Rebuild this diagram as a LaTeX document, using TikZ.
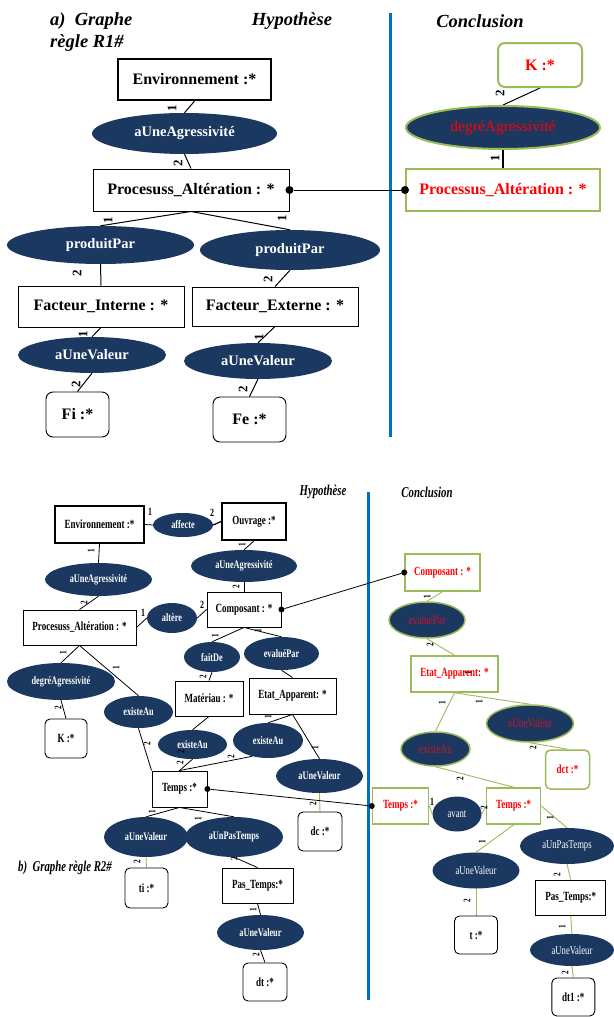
\documentclass[tikz,border=0pt]{standalone}
\usepackage{fontspec}
\setmainfont{Liberation Serif}
\newfontfamily\condfont{Liberation Serif}[FakeStretch=0.72]
\usetikzlibrary{shapes.geometric,backgrounds}

\definecolor{navy}{RGB}{26,56,96}
\definecolor{ogreen}{RGB}{155,187,89}
\definecolor{oblue}{RGB}{0,112,192}
\definecolor{dred}{RGB}{205,20,40}

\tikzset{
  sz/.style 2 args={minimum width=#1pt, minimum height=#2pt},
  % rule R1
  box/.style={draw, rectangle, fill=white, line width=0.95pt, inner sep=0pt,
    font=\bfseries\fontsize{16}{19}\selectfont},
  thickbox/.style={box, line width=2.2pt},
  rbox/.style={box, rounded corners=7pt},
  rel/.style={ellipse, fill=navy, text=white, inner sep=0pt,
    font=\bfseries\fontsize{14.5}{17}\selectfont},
  cbox/.style={box, draw=ogreen, line width=2pt, text=red},
  crbox/.style={cbox, rounded corners=7pt},
  crel/.style={ellipse, fill=navy, draw=ogreen, line width=2pt, inner sep=0pt,
    text=red, font=\fontsize{15.5}{18}\selectfont},
  lab/.style={inner sep=0pt, font=\bfseries\fontsize{13}{13}\selectfont, rotate=90},
  arc/.style={line width=1pt},
  ttl/.style={inner sep=0pt, font=\bfseries\itshape\fontsize{18.5}{21}\selectfont},
  dot/.style={circle, fill=black, inner sep=0pt, minimum size=8pt},
  sep/.style={draw=oblue, line width=3pt},
  % rule R2
  sbox/.style={draw, rectangle, fill=white, line width=0.9pt, inner sep=0pt,
    font=\condfont\bfseries\fontsize{12.5}{15}\selectfont},
  sthick/.style={sbox, line width=1.8pt},
  srbox/.style={sbox, rounded corners=5pt},
  srel/.style={ellipse, fill=navy, text=white, inner sep=0pt,
    font=\condfont\bfseries\fontsize{11.5}{14}\selectfont},
  scbox/.style={sbox, draw=ogreen, line width=1.5pt, text=red},
  scrbox/.style={scbox, rounded corners=5pt},
  screl/.style={srel, draw=ogreen, line width=1.5pt, text=dred,
    font=\condfont\fontsize{13}{15}\selectfont},
  slab/.style={inner sep=0pt, font=\condfont\bfseries\fontsize{10}{10}\selectfont, rotate=90},
  ulab/.style={inner sep=0pt, font=\condfont\bfseries\fontsize{11}{11}\selectfont},
  sarc/.style={line width=0.8pt},
  garc/.style={line width=0.9pt, draw=ogreen},
  sttl/.style={inner sep=0pt, font=\condfont\bfseries\itshape\fontsize{15}{17}\selectfont},
  sdot/.style={circle, fill=black, inner sep=0pt, minimum size=6pt},
}

\begin{document}
\begin{tikzpicture}[x=1pt,y=-1pt]
\useasboundingbox (0,0) rectangle (613,1017);

% ---------------- rule R1 ----------------
\node[ttl, anchor=west] (ta1) at (50,21) {a)\ \ Graphe};
\node[ttl, anchor=west] (ta2) at (50,43) {règle R1\#};
\node[ttl] (th1) at (292,21) {Hypothèse};
\node[ttl] (tc1) at (480,21) {Conclusion};
\coordinate (s1t) at (390,13);
\coordinate (s1b) at (390,437);

\node[thickbox, sz={153}{41}] (env) at (194.5,79.5) {Environnement :*};
\node[rel, sz={185}{41}] (aga) at (184.5,133.5) {aUneAgressivité};
\node[box, sz={196}{42}] (proc) at (191,190) {Procesuss\_Altération : *};
\node[rel, sz={187}{38}] (ppl) at (100.5,245) {produitPar};
\node[rel, sz={180}{40}] (ppr) at (290,250) {produitPar};
\node[box, sz={166}{41}] (fi) at (101,306.5) {Facteur\_Interne : *};
\node[box, sz={166}{39}] (fe) at (275,306.5) {Facteur\_Externe : *};
\node[rel, sz={148}{36}] (vl) at (92,355) {aUneValeur};
\node[rel, sz={148}{36}] (vr) at (258,361) {aUneValeur};
\node[rbox, sz={63}{45}] (fiv) at (77.5,414.5) {Fi :*};
\node[rbox, sz={73}{45}] (fev) at (249.5,419.5) {Fe :*};

\node[crbox, sz={84}{44}] (kc) at (540,65) {K :*};
\node[crel, sz={194}{43}] (dgc) at (503,127.5) {degréAgressivité};
\node[cbox, sz={194}{42}] (pcc) at (503,190) {Processus\_Altération : *};

\node[dot] (d1) at (proc.east) {};
\node[dot] (d2) at (pcc.west) {};

\node[lab] (l1) at (172,108) {1};
\node[lab] (l2) at (178,163) {2};
\node[lab] (l3) at (108,220) {1};
\node[lab] (l4) at (282,218) {1};
\node[lab] (l5) at (77,273) {2};
\node[lab] (l6) at (268,279) {2};
\node[lab] (l7) at (83,334) {1};
\node[lab] (l8) at (259,337) {1};
\node[lab] (l9) at (76,384) {2};
\node[lab] (l10) at (243,389) {2};
\node[lab] (l11) at (500,93) {2};
\node[lab] (l12) at (495,158) {1};

% ---------------- rule R2 ----------------
\node[sttl] (th2) at (323,492) {Hypothèse};
\node[sttl] (tc2) at (427,492) {Conclusion};
\node[sttl, anchor=west] (tb) at (18,868) {b)\ \ Graphe règle R2\#};
\coordinate (s2t) at (368,492);
\coordinate (s2b) at (368,1000);

\node[sthick, sz={89}{37}] (env2) at (99.5,524.5) {Environnement :*};
\node[srel, sz={60}{24}] (aff) at (183,525) {affecte};
\node[sthick, sz={64}{37}] (ouv) at (254,521.5) {Ouvrage :*};
\node[srel, sz={107}{33}] (agrL) at (98.5,579.5) {aUneAgressivité};
\node[srel, sz={106}{32}] (agrR) at (244,566) {aUneAgressivité};
\node[sbox, sz={74}{35}] (comp) at (244,609.5) {Composant : *};
\node[sbox, sz={113}{35}] (proc2) at (79.5,627.5) {Procesuss\_Altération : *};
\node[srel, sz={50}{30}] (alt) at (172,618) {altère};
\node[srel, sz={56}{30}] (fait) at (212,657) {faitDe};
\node[srel, sz={75}{33}] (eval) at (281.5,653.5) {evaluéPar};
\node[srel, sz={108}{37}] (dgr) at (61,681.5) {degréAgressivité};
\node[srel, sz={69}{32}] (exL) at (138.5,712) {existeAu};
\node[sbox, sz={68}{35}] (mat) at (209,698.5) {Matériau : *};
\node[sbox, sz={87}{36}] (etat) at (292.5,696) {Etat\_Apparent: *};
\node[srbox, sz={42}{39}] (kk) at (66,738.5) {K :*};
\node[srel, sz={69}{29}] (exM) at (192.5,744.5) {existeAu};
\node[srel, sz={70}{35}] (exR) at (268,740.5) {existeAu};
\node[srel, sz={87}{34}] (valD) at (319.5,776) {aUneValeur};
\node[sbox, sz={55}{36}] (temps) at (179.5,789) {Temps :*};
\node[srbox, sz={44}{39}] (dc) at (320,831.5) {dc :*};
\node[srel, sz={84}{40}] (valTi) at (146,837) {aUneValeur};
\node[srel, sz={98}{40}] (pas) at (234,837) {aUnPasTemps};
\node[srbox, sz={43}{40}] (ti) at (146.5,888) {ti :*};
\node[sbox, sz={71}{35}] (pasT) at (257.5,885.5) {Pas\_Temps:*};
\node[srel, sz={87}{35}] (valDt) at (260.5,932.5) {aUneValeur};
\node[srbox, sz={44}{38}] (dt) at (265,982) {dt :*};

\node[scbox, sz={75}{37}] (ccomp) at (442.5,572.5) {Composant : *};
\node[screl, sz={76}{36}] (ceval) at (427,620) {evaluéPar};
\node[scbox, sz={87}{36}] (cetat) at (454.5,674) {Etat\_Apparent: *};
\node[screl, sz={69}{34}] (cex) at (435.5,749) {existeAu};
\node[screl, sz={87}{37}] (cval) at (530,723.5) {aUneValeur};
\node[scrbox, sz={44}{39}] (dct) at (567.5,769.5) {dct :*};
\node[scbox, sz={56}{36}] (ct1) at (400.5,806) {Temps :*};
\node[srel, sz={49}{35}, font=\condfont\fontsize{12}{14}\selectfont] (avant) at (457,814) {avant};
\node[scbox, sz={54}{36}] (ct2) at (513.7,806) {Temps :*};
\node[srel, sz={94}{36}, font=\condfont\fontsize{12}{14}\selectfont] (cpas) at (567,846) {aUnPasTemps};
\node[srel, sz={87}{36}, font=\condfont\fontsize{12}{14}\selectfont] (cvalt) at (476,870.5) {aUneValeur};
\node[srbox, sz={43}{38}] (ctt) at (476,935) {t :*};
\node[sbox, sz={70}{35}] (cpasT) at (570.7,897.5) {Pas\_Temps:*};
\node[srel, sz={84}{32}, font=\condfont\fontsize{12}{14}\selectfont] (cvaldt) at (572,950) {aUneValeur};
\node[srbox, sz={43}{38}] (dt1) at (573.3,997) {dt1 :*};

\node[sdot] (dd1) at (comp.east) {};
\node[sdot] (dd2) at (ccomp.west) {};
\node[sdot] (dd3) at (temps.east) {};
\node[sdot] (dd4) at (ct1.west) {};

% edge numbers
\node[ulab] (m1) at (150,512) {1};
\node[ulab] (m2) at (212,513) {2};
\node[slab] (m3) at (91,551) {1};
\node[slab] (m4) at (242,545) {1};
\node[slab] (m5) at (236,587) {2};
\node[slab] (m6) at (84,603) {2};
\node[ulab] (m7) at (143,613) {1};
\node[ulab] (m8) at (202,605) {2};
\node[slab] (m9) at (215,636) {1};
\node[slab] (m10) at (258,631) {1};
\node[slab] (m11) at (203,677) {2};
\node[slab] (m12) at (63,653) {1};
\node[slab] (m13) at (116,668) {1};
\node[slab] (m14) at (58,708) {2};
\node[slab] (m15) at (147,744) {2};
\node[slab] (m16) at (181,752) {2};
\node[slab] (m17) at (180,763) {2};
\node[slab] (m18) at (231,757) {2};
\node[slab] (m19) at (268,717) {1};
\node[slab] (m20) at (315,748) {1};
\node[slab] (m21) at (313,804) {2};
\node[slab] (m22) at (152,812) {1};
\node[slab] (m23) at (198,819) {1};
\node[slab] (m24) at (137,862) {2};
\node[slab] (m25) at (234,859) {2};
\node[slab] (m26) at (253,910) {1};
\node[slab] (m27) at (256,955) {2};

\node[slab] (n1) at (427,597) {1};
\node[slab] (n2) at (430,645) {2};
\node[slab] (n3) at (468,673) {1};
\node[slab] (n4) at (442,703) {1};
\node[slab] (n5) at (479,702) {1};
\node[slab] (n6) at (533,748) {2};
\node[slab] (n7) at (460,779) {2};
\node[ulab] (n8) at (432,802) {1};
\node[slab] (n9) at (484,808) {2};
\node[slab] (n10) at (550,818) {1};
\node[slab] (n11) at (482,842) {1};
\node[slab] (n12) at (467,901) {2};
\node[slab] (n13) at (557,875) {2};
\node[slab] (n14) at (562,927) {1};
\node[slab] (n15) at (565,973) {2};

% ---------------- connectors, beneath the nodes ----------------
\begin{pgfonlayer}{background}
\fill[white] (0,0) rectangle (613,1017);
\draw[sep] (s1t) -- (s1b);
\draw[sep] (s2t) -- (s2b);

% R1 hypothesis
\draw[arc] (env.south) -- (aga.north);
\draw[arc] (aga.south) -- (proc.north);
\draw[arc] (proc.south) -- (ppl.north);
\draw[arc] (proc.south) -- (ppr.north);
\draw[arc] (ppl.south) -- (fi.north);
\draw[arc] (ppr.south) -- (fe.north);
\draw[arc] (fi.south) -- (vl.north);
\draw[arc] (fe.south) -- (vr.north);
\draw[arc] (vl.south) -- (fiv.north);
\draw[arc] (vr.south) -- (fev.north);
% R1 conclusion
\draw[arc] (kc.south) -- (dgc.north);
\draw[arc, line width=1.3pt] (dgc.south) -- (pcc.north);
\draw[arc] (d1) -- (d2);

% R2 hypothesis
\draw[sarc] (env2.east) -- (aff.west);
\draw[sarc, line width=1.2pt] (aff.east) -- (ouv.west);
\draw[sarc] (env2.south) -- (agrL.north);
\draw[sarc] (ouv.south) -- (agrR.north);
\draw[sarc] (agrR.south) -- (comp.north);
\draw[sarc] (agrL.south) -- (proc2.north);
\draw[sarc] (proc2.east) -- (alt.west);
\draw[sarc] (alt.east) -- (comp.west);
\draw[sarc] (comp.south) -- (fait.north);
\draw[sarc] (comp.south) -- (eval.north);
\draw[sarc] (fait.south) -- (mat.north);
\draw[sarc] (eval.south) -- (etat.north);
\draw[sarc] (proc2.south) -- (dgr.north);
\draw[sarc] (proc2.south) -- (exL.north);
\draw[sarc] (dgr.south) -- (kk.north);
\draw[sarc] (exL.south) -- (temps.north west);
\draw[sarc] (mat.south) -- (exM.north);
\draw[sarc] (exM.south) -- (temps.north);
\draw[sarc] (exR.225) -- (temps.north);
\draw[sarc] (etat.south) -- (exR.north);
\draw[sarc] (etat.south) -- (valD.north);
\draw[garc] (valD.south) -- (dc.north);
\draw[sarc] (temps.south) -- (valTi.north);
\draw[sarc] (temps.south) -- (pas.north);
\draw[garc] (valTi.south) -- (ti.north);
\draw[sarc] (pasT.north) -- (pas.south);
\draw[sarc] (pasT.south) -- (valDt.north);
\draw[sarc] (valDt.south) -- (dt.north);
\draw[sarc] (dd1) -- (dd2);
\draw[sarc] (dd3) -- (dd4);

% R2 conclusion
\draw[garc] (ccomp.south) -- (ceval.north);
\draw[garc] (ceval.south) -- (cetat.north);
\draw[garc] (cetat.south) -- (cex.north);
\draw[garc] (cetat.south) -- (cval.north);
\draw[garc] (cval.south) -- (dct.north);
\draw[garc] (cex.south) -- (ct2.north);
\draw[garc] (ct1.east) -- (avant.west);
\draw[garc] (avant.east) -- (ct2.west);
\draw[garc] (ct2.east) -- (cpas.north);
\draw[garc] (ct2.south) -- (cvalt.north);
\draw[garc] (cvalt.south) -- (ctt.north);
\draw[garc] (cpas.south) -- (cpasT.north);
\draw[garc] (cpasT.south) -- (cvaldt.north);
\draw[garc] (cvaldt.south) -- (dt1.north);
\end{pgfonlayer}
\end{tikzpicture}
\end{document}
